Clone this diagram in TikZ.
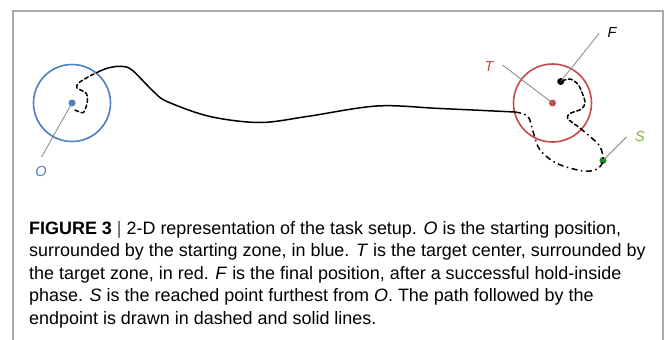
\documentclass[tikz,border=0pt]{standalone}
\usepackage{fontspec}
\setmainfont{Liberation Sans}
\definecolor{frameg}{HTML}{A9A9A9}
\definecolor{oblue}{HTML}{4A7FC1}
\definecolor{tred}{HTML}{C8474A}
\definecolor{sgreen}{HTML}{7DB343}
\definecolor{sdot}{HTML}{1B8A22}
\definecolor{pointer}{HTML}{858585}
\begin{document}
\begin{tikzpicture}[x=1pt,y=-1pt,
  zone/.style={draw=#1,line width=1.6pt},
  dot/.style={circle,fill=#1,inner sep=0pt,minimum size=7pt},
  pointerline/.style={draw=pointer,line width=0.8pt},
  lbl/.style={font=\fontsize{14.5}{14.5}\selectfont\itshape,inner sep=0pt},
  pathline/.style={line width=1.5pt,line cap=round,line join=round},
  dashpart/.style={pathline,dash pattern=on 4pt off 2.6pt},
  dashdotpart/.style={line width=1.5pt,line join=round,dash pattern=on 6pt off 3.5pt on 1.5pt off 3.5pt},
  framel/.style={draw=frameg,line width=1.8pt}]
\useasboundingbox (0,0) rectangle (665,340);
% frame
\draw[framel] (13,341) -- (13,11) -- (663,11) -- (663,341);
% zones
\draw[zone=oblue] (72,103) circle (38.5);
\draw[zone=tred] (552.5,103) circle (39);
% dots
\node[dot=oblue] (O) at (72,103) {};
\node[dot=tred] (T) at (552.5,103) {};
\node[dot=black] (F) at (560.7,81.5) {};
\node[dot=sdot] (S) at (603,160.5) {};
% labels
\node[lbl,text=oblue] (Ol) at (41,172) {O};
\node[lbl,text=tred] (Tl) at (489,67) {T};
\node[lbl] (Fl) at (612,33) {F};
\node[lbl,text=sgreen] (Sl) at (640,137) {S};
\coordinate (Op) at (41.5,157);
\coordinate (Tp) at (502.5,65);
\coordinate (Fp) at (599,33.5);
\coordinate (Sp) at (626.5,137);
\draw[pointerline] (Op) -- (O.center);
\draw[pointerline] (Tp) -- (T.center);
\draw[pointerline] (Fp) -- (F.center);
\draw[pointerline] (Sp) -- (S.center);
% path
\coordinate (a0) at (75,110);
\coordinate (a1) at (98,72);
\coordinate (a2) at (515,112);
\coordinate (a3) at (578,126.5);
\draw[dashpart] plot[smooth,tension=0.45] coordinates {(a0) (83.5,112.5) (87.5,101) (86,93) (77,88) (78.5,83) (89,76.5) (a1)};
\draw[pathline] plot[smooth,tension=0.55] coordinates {(a1) (108,68) (121,66.3) (132,70) (153,91) (167,101.5) (210,116.5) (260,122.5) (307,116.5) (377,106) (440,108.5) (a2)};
\draw[dashdotpart] plot[smooth,tension=0.55] coordinates {(a2) (528,116.5) (533.5,133) (540,150) (557,163.5) (583,171) (597,169) (S.center) (600,146.5) (590,136.5) (a3)};
\draw[dashpart] plot[smooth,tension=0.45] coordinates {(a3) (567.5,118.5) (570,113.5) (581.5,109) (585,101.5) (578.5,85) (570,79) (F.center)};
% caption
\node[anchor=base west,inner sep=0pt,align=left,font=\fontsize{17.95}{22.5}\selectfont] (cap) at (29,324)
{\textbf{FIGURE 3} {\color{black!70}|} 2-D representation of the task setup. \textit{O} is the starting position,\\
surrounded by the starting zone, in blue. \textit{T} is the target center, surrounded by\\
the target zone, in red. \textit{F} is the final position, after a successful hold-inside\\
phase. \textit{S} is the reached point furthest from \textit{O}. The path followed by the\\
endpoint is drawn in dashed and solid lines.};
\end{tikzpicture}
\end{document}
